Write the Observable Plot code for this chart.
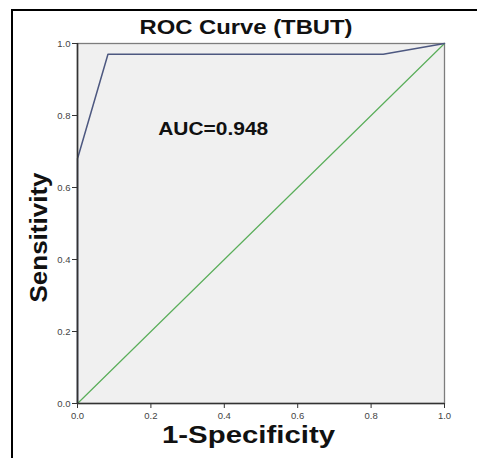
<!DOCTYPE html>
<html><head><meta charset="utf-8">
<script src="https://cdn.jsdelivr.net/npm/d3@7"></script>
<script src="https://cdn.jsdelivr.net/npm/@observablehq/plot@0.6"></script>
<style>
html,body{margin:0;padding:0;background:#fff;width:477px;height:458px;overflow:hidden}
#wrap{position:relative;width:477px;height:458px}
#wrap svg{position:absolute;left:0;top:0}
#border{position:absolute;left:11px;top:9px;right:-10px;bottom:-10px;border-left:2.5px solid #000;border-top:2.5px solid #000;z-index:2;pointer-events:none}
</style></head><body><div id="wrap"><div id="border"></div></div>
<script>
// ROC curve points (1-Specificity, Sensitivity)
const fpr = [0, 0, 0.083, 0.833, 1];
const tpr = [0, 0.68, 0.97, 0.97, 1];
// reference diagonal
const refX = [0, 1];
const refY = [0, 1];
const tickValues = [0, 0.2, 0.4, 0.6, 0.8, 1.0];
const titleText = "ROC Curve (TBUT)";
const xLabel = "1-Specificity";
const yLabel = "Sensitivity";
const aucLabel = "AUC=0.948";
const aucPos = {x: 0.22, y: 0.762};

const roc = fpr.map((x, i) => ({x, y: tpr[i]}));
const ref = refX.map((x, i) => ({x, y: refY[i]}));

const font = "'Liberation Sans', Arial, sans-serif";
const plot = Plot.plot({
  width: 477, height: 458,
  marginLeft: 77, marginRight: 33, marginTop: 43, marginBottom: 55,
  style: {fontFamily: font, background: "transparent", overflow: "visible"},
  x: {domain: [0, 1]},
  y: {domain: [0, 1]},
  marks: [
    Plot.frame({fill: "#f0f0f0", stroke: "#7d7d7d", strokeWidth: 1.3}),
    Plot.line(ref, {x: "x", y: "y", stroke: "#5aae5a", strokeWidth: 1.2}),
    Plot.line(roc, {x: "x", y: "y", stroke: "#4d5880", strokeWidth: 1.5}),
    Plot.ruleX([0], {stroke: "#333", strokeWidth: 1.6}),
    Plot.ruleY([0], {stroke: "#333", strokeWidth: 1.6}),
    Plot.axisX({ticks: tickValues, tickFormat: d3.format(".1f"), tickSize: 5, tickPadding: 4, label: null, fontSize: 9.5, color: "#444", stroke: "#333"}),
    Plot.axisY({ticks: tickValues, tickFormat: d3.format(".1f"), tickSize: 5, tickPadding: 2, label: null, fontSize: 9.5, color: "#444", stroke: "#333"}),
    Plot.text([titleText], {frameAnchor: "top", text: d => d, textAnchor: "middle", lineAnchor: "bottom", dy: -10, dx: -15, fontSize: 20.5, fontWeight: "bold", fill: "#111"}),
    Plot.text([xLabel], {frameAnchor: "bottom", text: d => d, textAnchor: "middle", lineAnchor: "bottom", dy: 39, dx: -12.5, fontSize: 24, fontWeight: "bold", fill: "#111"}),
    Plot.text([yLabel], {frameAnchor: "left", text: d => d, rotate: -90, textAnchor: "middle", lineAnchor: "middle", dx: -38, dy: 14, fontSize: 24.5, fontWeight: "bold", fill: "#111"}),
    Plot.text([aucLabel], {x: () => aucPos.x, y: () => aucPos.y, text: d => d, textAnchor: "start", lineAnchor: "middle", fontSize: 18, fontWeight: "bold", fill: "#111"})
  ]
});
const lengths = {[titleText]: 213, [xLabel]: 173, [yLabel]: 130, [aucLabel]: 110};
d3.select(plot).selectAll("text").each(function() {
  const t = this.textContent;
  if (lengths[t]) {
    this.setAttribute("textLength", lengths[t]);
    this.setAttribute("lengthAdjust", "spacingAndGlyphs");
  }
});
document.getElementById("wrap").appendChild(plot);
</script>
</body></html>
